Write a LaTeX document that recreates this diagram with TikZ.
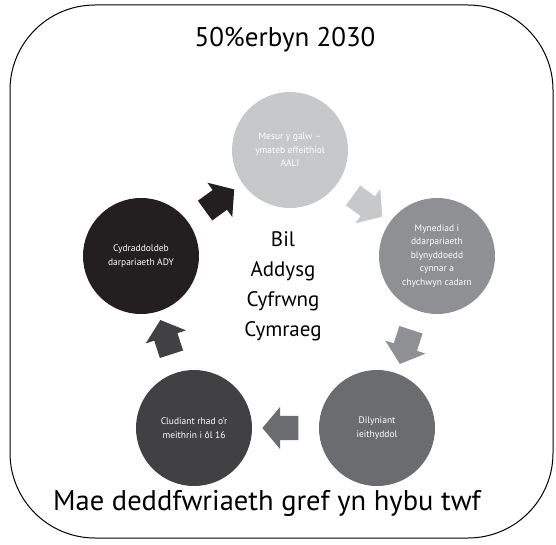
\documentclass[tikz,border=0pt]{standalone}
\usepackage{fontspec}
\setmainfont{PT Sans}
\usetikzlibrary{calc, shapes.arrows}

\definecolor{grisclair}{HTML}{C7C8CA}
\definecolor{grismoyen}{HTML}{8F9094}
\definecolor{grisfonce}{HTML}{6B6C70}
\definecolor{anthracite}{HTML}{414042}
\definecolor{presquenoir}{HTML}{231F20}

\begin{document}
\begin{tikzpicture}[x=1pt, y=-1pt,
    cercle/.style={circle, minimum size=116pt, inner sep=0pt, align=center,
      text=white, font=\fontsize{9.5}{13.5}\selectfont},
    fleche/.style={single arrow, minimum height=36pt, inner xsep=0pt, inner ysep=12pt,
      single arrow head extend=9pt, single arrow tip angle=100}]
  \useasboundingbox (0,0) rectangle (556,545);

  % Cadre
  \draw[line width=1pt, rounded corners=85pt] (10,5) rectangle (553,538);

  \node[font=\fontsize{27}{30}\selectfont] (titre) at (285,40) {50\%erbyn 2030};
  \node[font=\fontsize{28.5}{32}\selectfont] (devise) at (267,503) {Mae deddfwriaeth gref yn hybu twf};

  % Cercles
  \foreach \nom/\x/\y/\couleur/\texte in {
      c1/290/150/grisclair/{Mesur y galw --\\ymateb effeithiol\\AALI},
      c2/437/256/grismoyen/{Mynediad i\\ddarpariaeth\\blynyddoedd\\cynnar a\\chychwyn cadarn},
      c3/377/428/grisfonce/{Dilyniant\\ieithyddol},
      c4/194/428/anthracite/{Cludiant rhad o'r\\meithrin i ôl 16},
      c5/141/256/presquenoir/{Cydraddoldeb\\darpariaeth ADY}} {
    \node[cercle, fill=\couleur] (\nom) at (\x,\y) {\texte};
  }

  % Flèches
  \foreach \de/\vers/\angle/\couleur in {
      c1/c2/-36/grisclair, c2/c3/-108/grismoyen, c3/c4/180/grisfonce,
      c4/c5/108/anthracite, c5/c1/36/presquenoir} {
    \node[fleche, fill=\couleur, rotate=\angle] (f\de) at ($(\de)!0.5!(\vers)$) {};
  }

  \node[align=center, font=\fontsize{21}{30}\selectfont] (bil) at (283,286)
    {Bil\\Addysg\\Cyfrwng\\Cymraeg};
\end{tikzpicture}
\end{document}
